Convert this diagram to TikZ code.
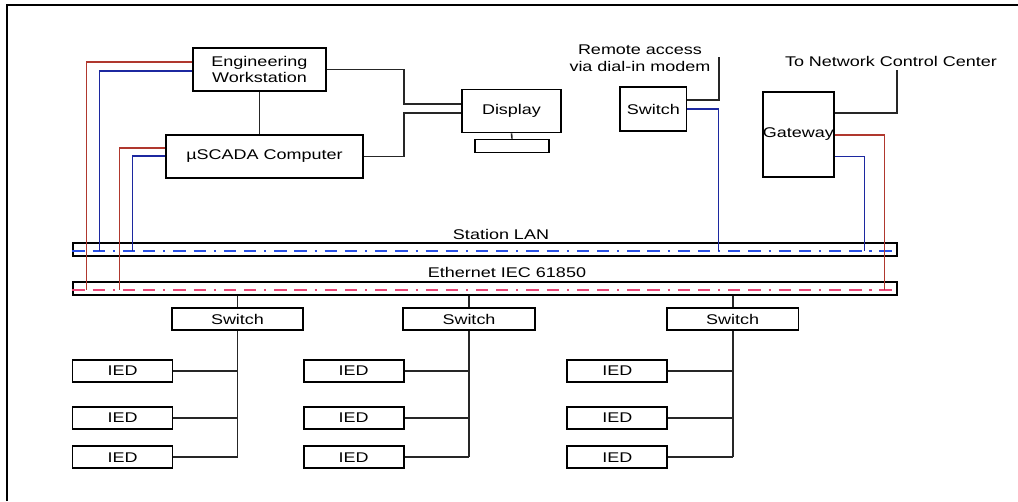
\documentclass[tikz,border=0pt]{standalone}
\usepackage{fontspec}
\setmainfont{Liberation Sans}[FakeStretch=1.28]
\usetikzlibrary{calc}
\definecolor{linkred}{RGB}{176,56,46}
\definecolor{linkblue}{RGB}{28,40,160}
\definecolor{busblue}{RGB}{40,80,230}
\definecolor{buspink}{RGB}{235,70,120}

\begin{document}
\begin{tikzpicture}[x=0.2mm, y=-0.2mm,
		box/.style={draw, line width=0.95pt, inner sep=0pt, align=center, font=\fontsize{8}{9.4}\selectfont},
		bus/.style={draw, line width=0.6pt, inner sep=0pt, minimum width=164.8mm, minimum height=2.6mm},
		lbl/.style={inner sep=0pt, align=center, font=\fontsize{8}{9.4}\selectfont},
		wire/.style={line width=0.9pt, color=black!85},
		redlink/.style={line width=0.85pt, color=linkred},
		bluelink/.style={line width=0.85pt, color=linkblue},
		busdash/.style={line width=0.8pt, dash pattern=on 7pt off 4.5pt on 7pt off 4.5pt on 1.2pt off 4.5pt}]
			%%%%% START %%%%%
			
			\useasboundingbox (0,0) rectangle (1018,501);
			\draw[line width=1.2pt] (7,501) -- (7,5) -- (1018,5);
			
			% station level
			\node[box, minimum width=26.6mm, minimum height=8.6mm] (ews) at (259.5,69.5) {Engineering\\Workstation};
			\node[box, minimum width=39.4mm, minimum height=8.6mm] (scada) at (264.5,156.5) {µSCADA Computer};
			\node[box, minimum width=19.8mm, minimum height=8.6mm] (disp) at (511.5,111) {Display};
			\node[box, minimum width=14.8mm, minimum height=2.6mm] (dbase) at (512,146) {};
			\node[box, minimum width=13.3mm, minimum height=8.7mm] (sw0) at (653.3,109) {Switch};
			\node[box, minimum width=13.3mm, minimum height=17.1mm] (gw) at (798.3,134.5) {Gateway};
			
			\node[lbl] (remotetxt) at (640,58) {Remote access\\via dial-in modem};
			\node[lbl] (ncctxt) at (891,61) {To Network Control Center};
			\coordinate (remote) at (719,57);
			\coordinate (ncc) at (897,70);
			
			\draw[wire] (ews.south) -- (ews.south |- scada.north);
			\draw[wire] (ews.east) -- ++(77,0) |- ($(disp.west)+(0,-7)$);
			\draw[wire] (scada.east) -- ++(40,0) |- ($(disp.west)+(0,2)$);
			\draw[wire] (disp.south) -- (dbase.north);
			\draw[wire] ($(sw0.east)+(0,-9)$) -| (remote);
			\draw[wire] ($(gw.east)+(0,-21.5)$) -| (ncc);
			
			% buses
			\node[bus] (lan) at (485,249.5) {};
			\node[bus] (iec) at (485,288.5) {};
			\node[lbl] (lantxt) at (501,234) {Station LAN};
			\node[lbl] (iectxt) at (507,272) {Ethernet IEC 61850};
			\draw[busdash, busblue] ($(lan.west)+(0,1.5)$) -- ($(lan.east)+(0,1.5)$);
			\draw[busdash, buspink] ($(iec.west)+(0,1.5)$) -- ($(iec.east)+(0,1.5)$);
			
			\draw[redlink] ($(ews.west)+(0,-7.5)$) -| ($(iec.west)+(14,1.5)$);
			\draw[bluelink] ($(ews.west)+(0,1.5)$) -| ($(lan.west)+(27,1.5)$);
			\draw[redlink] ($(scada.west)+(0,-8.5)$) -| ($(iec.west)+(47,1.5)$);
			\draw[bluelink] ($(scada.west)+(0,-0.5)$) -| ($(lan.west)+(60,1.5)$);
			\draw[bluelink] (sw0.east) -| ($(lan.west)+(646,1.5)$);
			\draw[redlink] ($(gw.east)+(0,0.5)$) -| ($(iec.east)+(-13,1.5)$);
			\draw[bluelink] ($(gw.east)+(0,22)$) -| ($(lan.east)+(-33,1.5)$);
			
			% bay level
			\node[box, minimum width=26.3mm, minimum height=4.3mm] (swA) at (237.5,319) {Switch};
			\node[box, minimum width=26.3mm, minimum height=4.3mm] (swB) at (469,319) {Switch};
			\node[box, minimum width=26.3mm, minimum height=4.3mm] (swC) at (732.7,319) {Switch};
			
			\node[box, minimum width=20mm, minimum height=4.4mm] (iedA1) at (122.5,370.8) {IED};
			\node[box, minimum width=20mm, minimum height=4.4mm] (iedA2) at (122.5,417.8) {IED};
			\node[box, minimum width=20mm, minimum height=4.4mm] (iedA3) at (122.5,457.2) {IED};
			\node[box, minimum width=20mm, minimum height=4.4mm] (iedB1) at (353.7,370.8) {IED};
			\node[box, minimum width=20mm, minimum height=4.4mm] (iedB2) at (353.7,417.8) {IED};
			\node[box, minimum width=20mm, minimum height=4.4mm] (iedB3) at (353.7,457.2) {IED};
			\node[box, minimum width=20mm, minimum height=4.4mm] (iedC1) at (617.3,370.8) {IED};
			\node[box, minimum width=20mm, minimum height=4.4mm] (iedC2) at (617.3,417.8) {IED};
			\node[box, minimum width=20mm, minimum height=4.4mm] (iedC3) at (617.3,457.2) {IED};
			
			\draw[wire] (swA.north |- iec.south) -- (swA.north);
			\draw[wire] (swB.north |- iec.south) -- (swB.north);
			\draw[wire] (swC.north |- iec.south) -- (swC.north);
			\draw[wire] (swA.south) -- (swA.south |- iedA3.east);
			\draw[wire] (swB.south) -- (swB.south |- iedB3.east);
			\draw[wire] (swC.south) -- (swC.south |- iedC3.east);
			
			\draw[wire] (iedA1.east) -- (iedA1.east -| swA.south);
			\draw[wire] (iedA2.east) -- (iedA2.east -| swA.south);
			\draw[wire] (iedA3.east) -- (iedA3.east -| swA.south);
			\draw[wire] (iedB1.east) -- (iedB1.east -| swB.south);
			\draw[wire] (iedB2.east) -- (iedB2.east -| swB.south);
			\draw[wire] (iedB3.east) -- (iedB3.east -| swB.south);
			\draw[wire] (iedC1.east) -- (iedC1.east -| swC.south);
			\draw[wire] (iedC2.east) -- (iedC2.east -| swC.south);
			\draw[wire] (iedC3.east) -- (iedC3.east -| swC.south);
			
			%%%%% END %%%%%
		\end{tikzpicture}
\end{document}
